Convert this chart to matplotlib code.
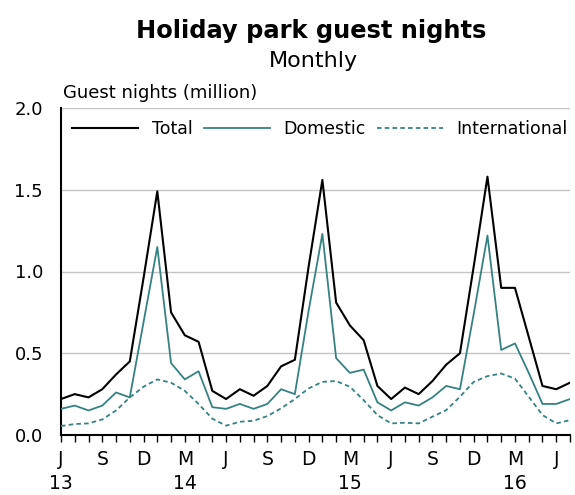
import matplotlib
matplotlib.use("Agg")
import matplotlib.pyplot as plt

plt.rcParams['font.family'] = ['DejaVu Sans']

# Monthly, Jun 2013 .. Jul 2016
total = [0.22, 0.25, 0.23, 0.28, 0.37, 0.45, 0.96, 1.49, 0.75, 0.61,
         0.57, 0.27, 0.22, 0.28, 0.24, 0.30, 0.42, 0.46, 1.03, 1.56,
         0.81, 0.67, 0.58, 0.30, 0.22, 0.29, 0.25, 0.33, 0.43, 0.50,
         1.03, 1.58, 0.90, 0.90, 0.60, 0.30, 0.28, 0.32]
domestic = [0.16, 0.18, 0.15, 0.18, 0.26, 0.23, 0.69, 1.15, 0.44, 0.34,
            0.39, 0.17, 0.16, 0.19, 0.16, 0.19, 0.28, 0.25, 0.76, 1.23,
            0.47, 0.38, 0.40, 0.20, 0.15, 0.20, 0.18, 0.23, 0.30, 0.28,
            0.74, 1.22, 0.52, 0.56, 0.38, 0.19, 0.19, 0.22]
international = [0.055, 0.067, 0.071, 0.095, 0.15, 0.23, 0.295, 0.34, 0.32, 0.27,
                 0.19, 0.10, 0.057, 0.081, 0.087, 0.116, 0.163, 0.22, 0.285, 0.325,
                 0.33, 0.295, 0.213, 0.122, 0.071, 0.075, 0.071, 0.112, 0.152, 0.234,
                 0.325, 0.36, 0.376, 0.345, 0.234, 0.122, 0.071, 0.091]
tick_positions = [0, 3, 6, 9, 12, 15, 18, 21, 24, 27, 30, 33, 36]
tick_labels = ['J\n13', 'S', 'D', 'M\n14', 'J', 'S', 'D', 'M\n15', 'J', 'S', 'D', 'M\n16', 'J']
y_ticks = [0.0, 0.5, 1.0, 1.5, 2.0]

teal = '#358281'

fig = plt.figure(figsize=(5.75, 4.95), dpi=100)
ax = fig.add_axes([61/575, 1-435/495, 509/575, 327/495])

x = list(range(len(total)))
ax.plot(x, total, color='black', lw=1.5, label='Total', zorder=3)
ax.plot(x, domestic, color=teal, lw=1.3, label='Domestic', zorder=3)
ax.plot(x, international, color=teal, lw=1.3, ls=(0, (2.5, 1.8)), label='International', zorder=3)

ax.set_xlim(0, len(total) - 1)
ax.set_ylim(0, 2.0)
ax.set_yticks(y_ticks)
ax.set_yticklabels([f'{v:.1f}' for v in y_ticks], fontsize=13)
ax.tick_params(axis='y', length=0, pad=13)
ax.yaxis.grid(True, color='#c4c4c4', lw=1.0)
ax.set_axisbelow(True)

ax.set_xticks(range(len(total)), minor=True)
ax.set_xticks(tick_positions)
ax.set_xticklabels(tick_labels, fontsize=13.5, linespacing=1.3)
ax.tick_params(axis='x', which='both', direction='out', length=5, width=1.0, color='black', pad=6)

for s in ['top', 'right']:
    ax.spines[s].set_visible(False)
ax.spines['left'].set_linewidth(1.5)
ax.spines['bottom'].set_linewidth(1.5)

leg = ax.legend(loc='center left', bbox_to_anchor=(11/509, (435-129)/327), ncol=3, frameon=False,
                fontsize=12.5, handlelength=3.8, handletextpad=0.8, columnspacing=0.63,
                borderaxespad=0, borderpad=0)

fig.text(0.542, 1-38.3/495, 'Holiday park guest nights', ha='center', va='baseline',
         fontsize=17.4, fontweight='bold')
fig.text(0.545, 1-67.3/495, 'Monthly', ha='center', va='baseline', fontsize=16)
fig.text(63.3/575, 1-98.3/495, 'Guest nights (million)', ha='left', va='baseline', fontsize=13)

fig.savefig('out.png', dpi=100)
